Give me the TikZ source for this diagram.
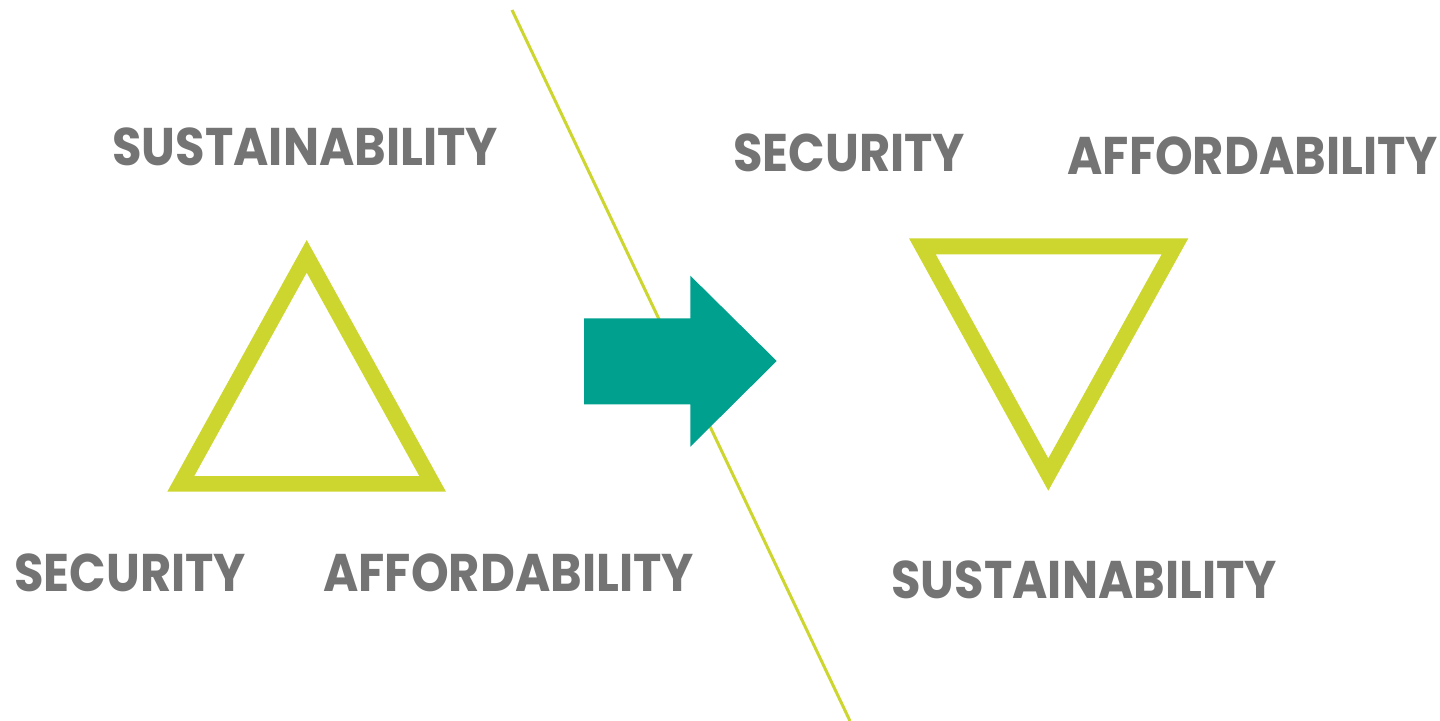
\documentclass[tikz,border=0pt]{standalone}
\usepackage{fontspec}
\setmainfont{Poppins}
\newfontfamily\lblfont[FakeStretch=0.905]{Poppins}
\usepackage{tikz}
\usetikzlibrary{positioning}
\definecolor{lime}{HTML}{CDD62F}
\definecolor{teal}{HTML}{00A08F}
\definecolor{txtgray}{HTML}{747474}
\tikzset{
    %Define style for the labels
    lbl/.style={anchor=base west, inner sep=0pt, text=txtgray, font=\lblfont\fontsize{26.5}{30}\selectfont\bfseries},
    %Define style for the triangles
    tri/.style={fill=lime, even odd rule},
}

\begin{document}
\begin{tikzpicture}[x=0.5pt, y=-0.5pt]
    \useasboundingbox (0,0) rectangle (1440,721);
    	% dividing line
    	\coordinate (top) at (512,10);
    	\coordinate (bottom) at (850,721);
    	\draw[lime, line width=1.5pt] (top) -- (bottom);

    	% left triangle
    	\path[tri] (306.7,240) -- (446,491.7) -- (167.3,491.7) -- cycle
    	    (306.7,272.7) -- (419.3,476) -- (194.3,476) -- cycle;
    	% right triangle
    	\path[tri] (909,238.3) -- (1188.3,238.3) -- (1048.3,490.7) -- cycle
    	    (935.7,254.3) -- (1161.7,254.3) -- (1048.3,458.3) -- cycle;

    	% arrow
    	\fill[teal] (584,318.3) -- (690.3,318.3) -- (690.3,275.7) -- (776.7,361)
    	    -- (690.3,446.7) -- (690.3,404.3) -- (584,404.3) -- cycle;

    	\node[lbl](sust1) at (112,166){SUSTAINABILITY};
    	\node[lbl](sec1) at (14,591){SECURITY};
    	\node[lbl](aff1) at (323,591){AFFORDABILITY};
    	\node[lbl](sec2) at (733,172){SECURITY};
    	\node[lbl](aff2) at (1067,175){AFFORDABILITY};
    	\node[lbl](sust2) at (891,598){SUSTAINABILITY};
    \end{tikzpicture}
\end{document}
